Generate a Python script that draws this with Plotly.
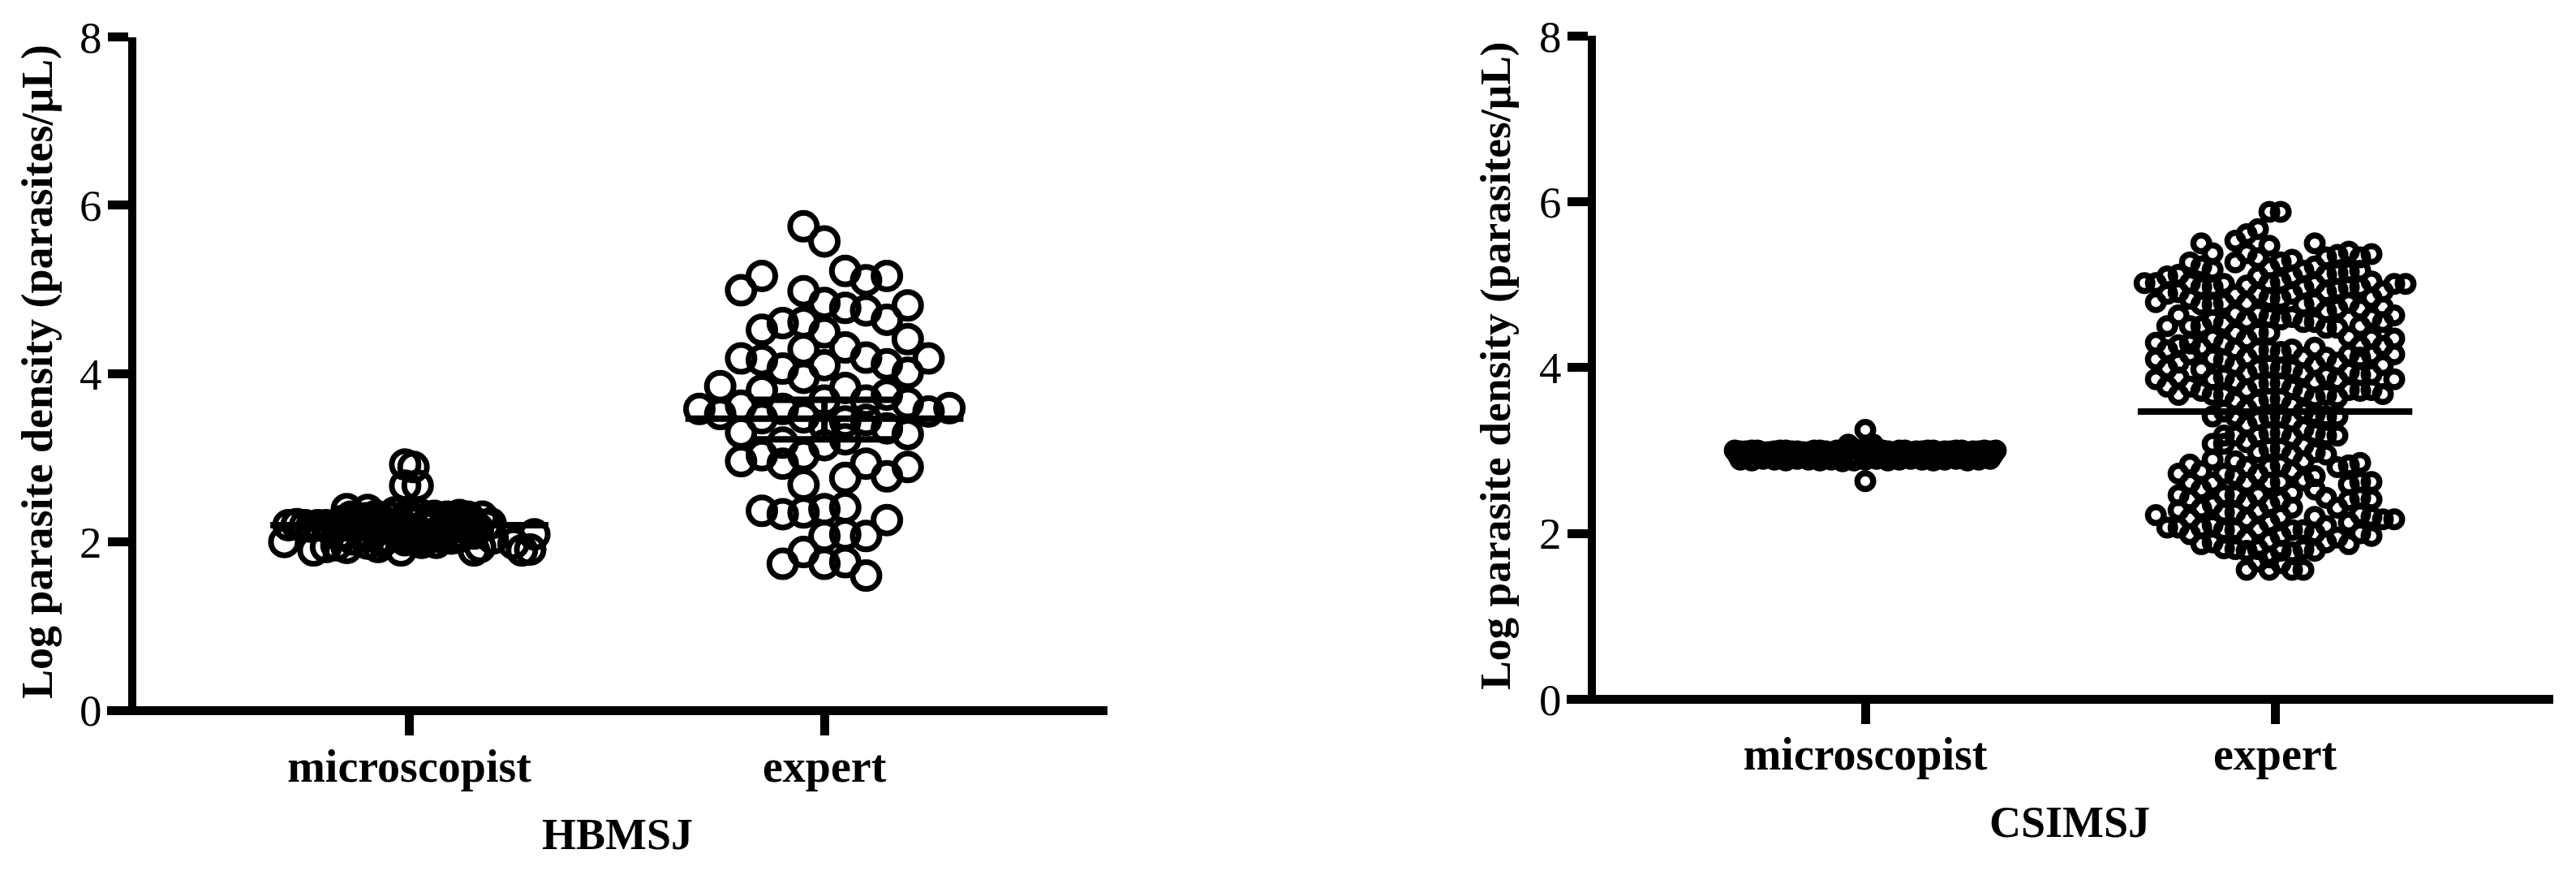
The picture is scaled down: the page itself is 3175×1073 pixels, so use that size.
import plotly.graph_objects as go

W, H = 3175, 1073
y_ticks = [0, 2, 4, 6, 8]
categories = ["microscopist", "expert"]
y_title = "Log parasite density (parasites/μL)"
panel_titles = ["HBMSJ", "CSIMSJ"]

hb_micro_col = [-6.0,-4.6,-4.0,-3.5,-3.0,-2.0,-1.5,-0.4,0.6,1.3,2.0,3.1,3.4,4.0,5.4,5.8,6.0,5.0,
                -5.8,-5.0,-4.4,-4.0,-3.5,-3.0,-3.0,-2.0,-2.5,-1.5,-1.0,-1.5,-2.3,-0.7,-0.2,0.2,-0.2,0.4,
                0.0,0.5,1.0,1.8,2.2,2.8,3.0,3.5,3.9,1.5,0.3,-0.6,2.5,3.1,1.0,
                -2.6,-2.2,-1.8,-1.2,-0.8,-0.3,0.1,0.7,1.3,1.7,2.1,2.6,
                -2.8,-2.1,-1.6,-0.9,-0.1,0.5,1.2,1.9,2.4,2.9,
                -5.4,-4.7,-3.2,3.3,3.7,-1.9,-1.1,-0.5,0.2,0.9,1.6,
                -3.4,-2.7,-1.3,-0.2,0.8,2.3]
hb_micro_val = [2.00,1.90,1.94,1.96,1.93,1.98,1.94,1.90,1.99,1.99,2.04,1.90,1.94,2.04,1.90,1.91,2.09,1.98,
                2.20,2.20,2.20,2.20,2.17,2.20,2.39,2.38,2.26,2.26,2.20,2.14,2.12,2.35,2.92,2.89,2.67,2.67,
                2.30,2.26,2.30,2.30,2.26,2.30,2.23,2.30,2.22,2.14,2.14,2.14,2.10,2.10,2.09,
                2.18,2.22,2.17,2.24,2.18,2.20,2.24,2.19,2.22,2.18,2.20,2.17,
                2.30,2.28,2.31,2.29,2.32,2.33,2.31,2.29,2.32,2.28,
                2.21,2.18,2.25,2.16,2.20,2.07,2.05,2.08,2.04,2.06,2.05,
                2.08,2.03,2.00,2.02,2.03,2.05]

hb_expert_col = [-6,-5,-5,-4,-4,-4,-4,-4,-3,-3,-3,-3,-3,-3,-3,
                 -2,-2,-2,-2,-2,-2,-2,-1,-1,-1,-1,-1,-1,-1,-1,-1,-1,
                 0,0,0,0,0,0,0,0,0,0,1,1,1,1,1,1,1,1,1,1,
                 2,2,2,2,2,2,2,2,3,3,3,3,3,3,3,4,4,4,4,4,4,5,5,6]
hb_expert_val = [3.58,3.85,3.52,4.99,4.18,3.62,3.30,2.96,5.16,4.52,4.16,3.80,3.47,3.03,2.37,
                 4.60,4.06,3.58,3.18,2.93,2.33,1.74,5.75,4.98,4.61,4.29,3.95,3.48,3.03,2.68,2.35,1.88,
                 5.57,4.84,4.49,4.10,3.68,3.38,3.15,2.39,2.07,1.74,5.22,4.78,4.31,3.83,3.43,3.22,2.76,2.41,2.09,1.76,
                 5.11,4.75,4.19,3.68,3.45,2.93,2.07,1.60,5.16,4.64,4.11,3.75,3.35,2.78,2.26,4.81,4.41,4.01,3.65,3.28,2.89,4.18,3.55,3.59]

csi_micro_col = [-11.5,-10.5,-9.5,-8.5,-7.5,-6.5,-5.5,-4.5,-3.5,-2.5,-1.5,-0.5,0.5,1.5,2.5,3.5,4.5,5.5,6.5,7.5,8.5,9.5,10.5,11.5,
                 -11,-10,-9,-8,-7,-6,-5,-4,-3,-2,-1,0,1,2,3,4,5,6,7,8,9,10,11,
                 -11,-10,-9,-8,-7,-6,-5,-4,-3,-2,-1,0,1,2,3,4,5,6,7,8,9,10,11,
                 -11.2,-10.2,-9.2,-8.2,-7.2,-6.2,-5.2,-4.2,-3.2,-2.2,-1.2,0.2,1.2,2.2,3.2,4.2,5.2,6.2,7.2,8.2,9.2,10.2,11.2,
                 -1.5,0.7,0,0]
csi_micro_val = [3.00,2.99,3.00,2.98,3.00,2.99,2.98,3.00,2.99,3.00,3.02,3.00,2.99,3.00,2.98,3.00,2.99,3.00,2.98,2.99,3.00,2.99,3.00,3.00,
                 2.89,2.88,2.90,2.89,2.88,2.90,2.89,2.88,2.89,2.87,2.88,2.89,2.90,2.88,2.89,2.90,2.89,2.88,2.89,2.90,2.88,2.89,2.90,
                 2.99,3.00,2.98,2.99,3.00,2.99,2.98,3.00,2.98,3.00,3.02,3.02,3.01,2.99,3.00,2.98,2.99,3.00,2.99,3.00,2.98,2.99,2.99,
                 2.94,2.95,2.93,2.95,2.94,2.93,2.95,2.94,2.93,2.92,2.93,2.94,2.95,2.93,2.94,2.95,2.94,2.93,2.95,2.94,2.93,2.95,2.94,
                 3.07,3.07,3.25,2.63]

csi_c01 = [5.02]
csi_c02 = [5.02,4.79,4.30,4.10,3.86,2.22]
csi_c03 = [5.10,4.89,4.50,4.21,3.99,3.77,2.07]
csi_c04 = [5.12,4.91,4.63,4.27,4.06,3.88,3.67,2.72,2.46,2.28,2.07]
csi_c05 = [5.27,5.02,4.83,4.50,4.29,4.16,3.77,2.83,2.61,2.41,2.18,1.99]
csi_c06 = [5.50,5.22,4.97,4.76,4.50,4.24,3.98,3.72,2.75,2.53,2.30,2.07,1.87]
csi_c07 = [5.38,5.18,4.97,4.76,4.57,4.35,4.11,3.86,3.67,3.41,3.08,2.89,2.61,2.35,2.10,1.89]
csi_c08 = [5.01,4.78,4.53,4.29,4.09,3.88,3.67,3.47,3.18,3.08,2.72,2.46,2.25,2.04,1.82]
csi_c09 = [5.53,5.27,4.88,4.65,4.42,4.22,4.03,3.83,3.60,3.41,3.18,2.87,2.69,2.46,2.25,2.04,1.81]
csi_c10 = [5.61,5.38,4.99,4.78,4.57,4.34,4.12,3.93,3.73,3.50,3.31,3.10,2.80,2.61,2.38,2.17,1.94,1.79,1.56]
csi_c11 = [5.67,5.32,5.10,4.89,4.65,4.42,4.21,3.99,3.80,3.59,3.37,3.18,2.98,2.71,2.46,2.27,2.05,1.81,1.66]
csi_c12 = [5.88,5.47,5.20,5.02,4.84,4.61,4.42,4.21,4.01,3.81,3.62,3.41,3.21,3.02,2.80,2.61,2.35,2.13,1.91,1.71,1.56]
csi_c13 = [5.88,5.27,5.04,4.83,4.58,4.19,3.99,3.81,3.62,3.41,3.21,3.02,2.82,2.62,2.40,2.20,1.97,1.79,1.64]
csi_c14 = [5.30,5.10,4.89,4.61,4.22,3.98,3.75,3.55,3.36,3.16,2.95,2.75,2.49,2.31,2.04,1.77,1.56]
csi_c15 = [5.17,4.96,4.76,4.55,4.12,3.93,3.70,3.47,3.26,3.06,2.87,2.64,2.04,1.81,1.56]
csi_c16 = [5.50,5.22,5.01,4.79,4.55,4.24,4.03,3.83,3.64,3.44,3.21,2.98,2.69,2.53,2.20,2.00,1.79]
csi_c17 = [5.33,5.12,4.91,4.68,4.48,4.12,3.90,3.67,3.41,3.18,2.95,2.43,2.09,1.89]
csi_c18 = [5.36,5.14,4.94,4.71,4.48,4.06,3.85,3.64,3.41,3.18,2.80,2.31,1.95]
csi_c19 = [5.40,5.15,4.97,4.78,4.37,4.16,3.95,3.73,2.82,2.59,2.40,2.13,1.87]
csi_c20 = [5.33,5.17,4.97,4.71,4.50,4.26,4.12,3.91,3.72,2.85,2.62,2.43,2.23,2.00]
csi_c21 = [5.37,5.04,4.84,4.60,4.35,4.16,3.92,3.73,2.62,2.41,2.20,1.97]
csi_c22 = [4.92,4.73,4.55,4.26,4.03,3.68,2.17]
csi_c23 = [5.01,4.63,4.35,4.16,3.86,2.17]
csi_c24 = [5.01]
csi_expert_columns = [(-11.5,csi_c01),(-10.5,csi_c02),(-9.5,csi_c03),(-8.5,csi_c04),(-7.5,csi_c05),(-6.5,csi_c06),
                      (-5.5,csi_c07),(-4.5,csi_c08),(-3.5,csi_c09),(-2.5,csi_c10),(-1.5,csi_c11),(-0.5,csi_c12),
                      (0.5,csi_c13),(1.5,csi_c14),(2.5,csi_c15),(3.5,csi_c16),(4.5,csi_c17),(5.5,csi_c18),
                      (6.5,csi_c19),(7.5,csi_c20),(8.5,csi_c21),(9.5,csi_c22),(10.5,csi_c23),(11.5,csi_c24)]

hb_means = [2.20, 3.465]
hb_expert_sem = [3.22, 3.69]
csi_means = [2.95, 3.47]
mean_half = 0.335
sem_half = 0.176

hb_step = 0.0502
csi_step = 0.0277

fig = go.Figure()

def rings(x, y, xa, ya, size, lw):
    fig.add_trace(go.Scatter(x=x, y=y, xaxis=xa, yaxis=ya, mode="markers", showlegend=False,
                             marker=dict(symbol="circle-open", size=size, color="black", line=dict(width=lw, color="black"))))

def seg(x0, x1, y0, y1, xa, ya, w=8):
    fig.add_trace(go.Scatter(x=[x0, x1], y=[y0, y1], xaxis=xa, yaxis=ya, mode="lines", showlegend=False,
                             line=dict(color="black", width=w)))

rings([1 + c * hb_step for c in hb_micro_col], hb_micro_val, "x", "y", 33, 7)
rings([2 + c * hb_step for c in hb_expert_col], hb_expert_val, "x", "y", 33, 7)
seg(1 - mean_half, 1 + mean_half, hb_means[0], hb_means[0], "x", "y")
seg(2 - mean_half, 2 + mean_half, hb_means[1], hb_means[1], "x", "y")
for v in hb_expert_sem:
    seg(2 - sem_half, 2 + sem_half, v, v, "x", "y")
seg(2, 2, hb_expert_sem[0], hb_expert_sem[1], "x", "y")

rings([1 + c * csi_step for c in csi_micro_col], csi_micro_val, "x2", "y2", 19.5, 7.5)
ex, ey = [], []
for c, vals in csi_expert_columns:
    ex += [2 + c * csi_step] * len(vals)
    ey += vals
rings(ex, ey, "x2", "y2", 19.5, 7.5)
seg(1 - mean_half, 1 + mean_half, csi_means[0], csi_means[0], "x2", "y2")
seg(2 - mean_half, 2 + mean_half, csi_means[1], csi_means[1], "x2", "y2")

FS = "Liberation Serif"
def xax(l, r, rng, line_py, standoff):
    return dict(domain=[l / W, r / W], range=rng, anchor="free", position=1 - line_py / H,
                tickmode="array", tickvals=[1, 2], ticktext=[f"<b>{c}</b>" for c in categories],
                showgrid=False, zeroline=False, showline=True, linecolor="black", linewidth=11,
                ticks="outside", ticklen=25, tickwidth=11, tickcolor="black", ticklabelstandoff=standoff,
                tickfont=dict(family=FS, size=56, color="black"))
def yax(top, bot, line_px):
    return dict(domain=[1 - bot / H, 1 - top / H], range=[0, 8], anchor="free", position=line_px / W,
                tickmode="array", tickvals=y_ticks, ticktext=[str(t) for t in y_ticks],
                showgrid=False, zeroline=False, showline=True, linecolor="black", linewidth=10,
                ticks="outside", ticklen=25, tickwidth=11, tickcolor="black", ticklabelstandoff=-4,
                tickfont=dict(family=FS, size=55, color="black"))

fig.update_layout(
    width=W, height=H, autosize=False, margin=dict(l=0, r=0, t=0, b=0, autoexpand=False),
    paper_bgcolor="white", plot_bgcolor="white",
    xaxis=xax(132, 1365, [0.2718, 2.682], 875, -10),
    yaxis=yax(45.5, 875, 162.5),
    xaxis2=xax(1931, 3147, [0.2713, 2.679], 861.3, -12),
    yaxis2=yax(44.4, 861.3, 1961.5),
)

def label(text, px, py, size=55, angle=0):
    fig.add_annotation(text=f"<b>{text}</b>", x=px / W, y=1 - py / H, xref="paper", yref="paper",
                       showarrow=False, textangle=angle, xanchor="center", yanchor="middle",
                       font=dict(family=FS, size=size, color="black"))

label(y_title, 46, 458, 54, -90)
label(y_title, 1843, 451, 53.5, -90)
label(panel_titles[0], 761, 1028, 54)
label(panel_titles[1], 2551, 1013, 54)

fig.write_html("out.html", config={"displayModeBar": False}, post_script="document.body.style.margin='0';")
